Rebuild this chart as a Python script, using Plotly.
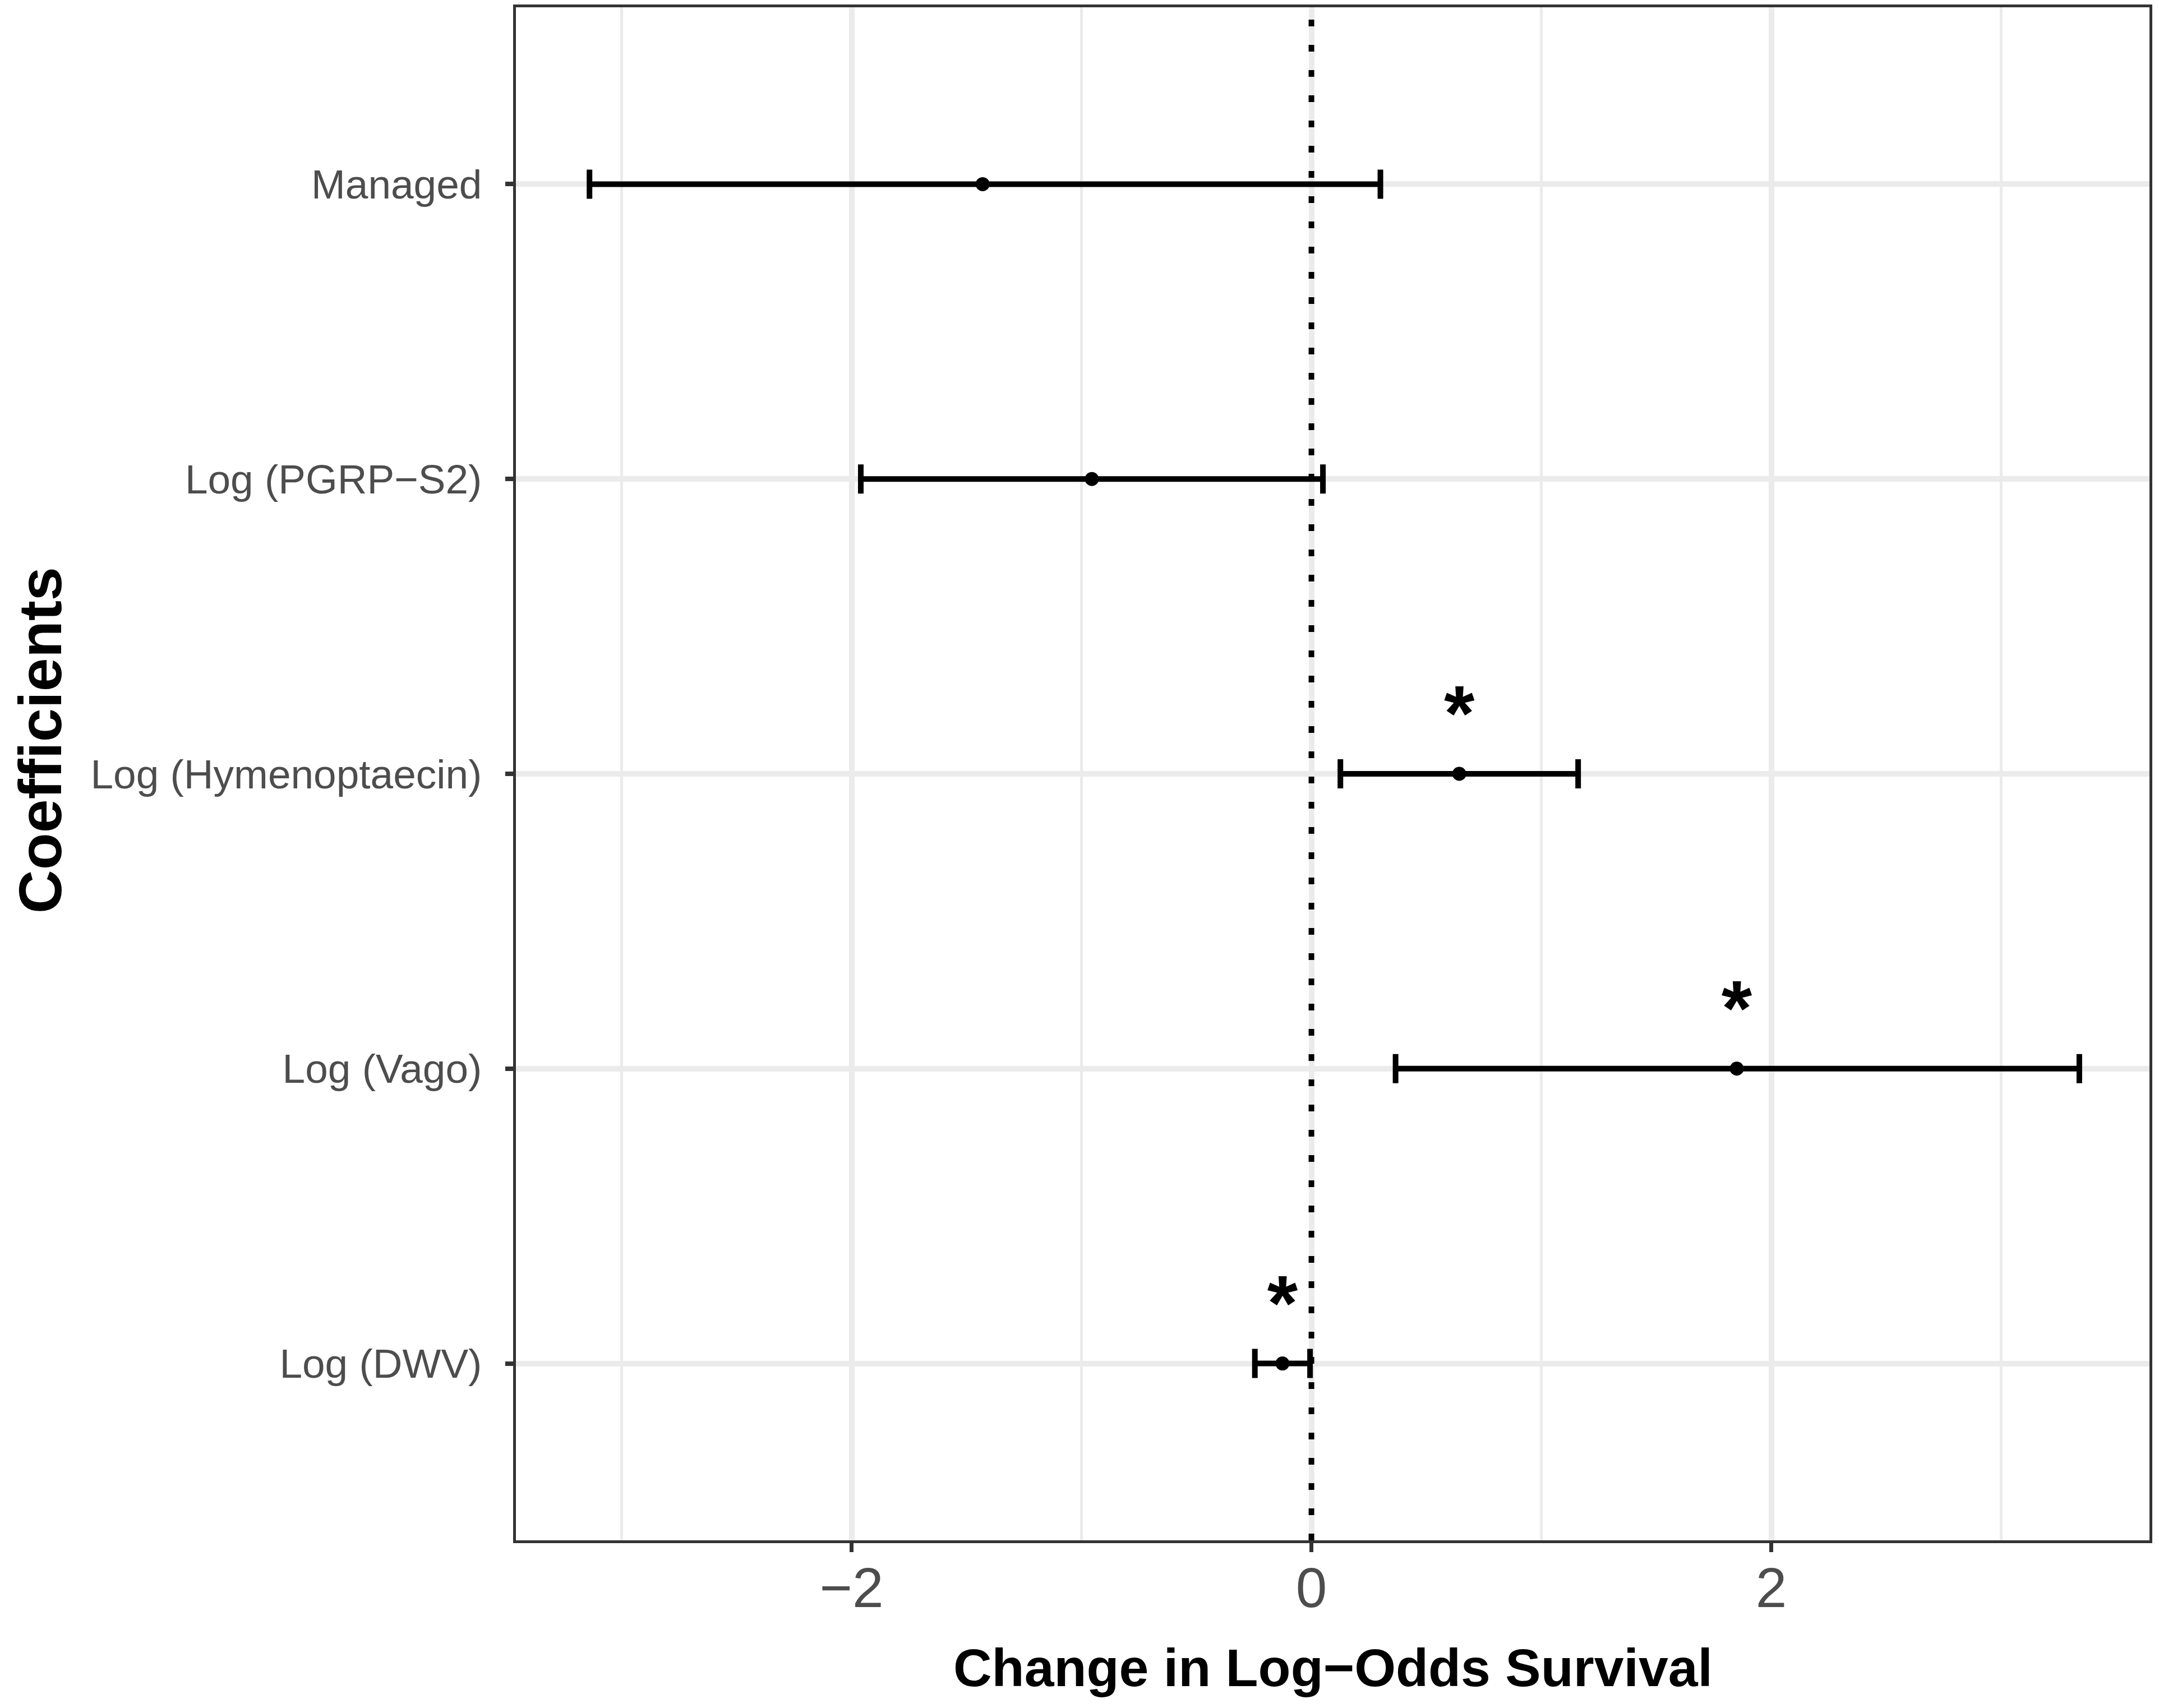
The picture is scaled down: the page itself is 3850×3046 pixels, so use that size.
import plotly.graph_objects as go

# coefficient estimates with 95% intervals
coef_names = ["Managed", "Log (PGRP\u2212S2)", "Log (Hymenoptaecin)", "Log (Vago)", "Log (DWV)"]
estimate = [-1.43, -0.955, 0.643, 1.85, -0.126]
lower = [-3.14, -1.96, 0.126, 0.366, -0.246]
upper = [0.30, 0.05, 1.16, 3.34, -0.006]
significant = [False, False, True, True, True]

x_ticks = [-2, 0, 2]
x_minor = [-3, -1, 1, 3]

ypos = list(range(len(coef_names)))[::-1]
err_plus = [u - e for u, e in zip(upper, estimate)]
err_minus = [e - l for e, l in zip(estimate, lower)]

FONT = "Liberation Sans, Arial, sans-serif"

fig = go.Figure()

fig.add_trace(go.Scatter(
    x=estimate, y=ypos, mode="markers",
    marker=dict(color="black", size=25),
    error_x=dict(type="data", symmetric=False, array=err_plus, arrayminus=err_minus,
                 color="black", thickness=10, width=26),
    showlegend=False, hoverinfo="skip",
))

# asterisks over significant terms
sx = [e for e, s in zip(estimate, significant) if s]
sy = [y + 0.18 for y, s in zip(ypos, significant) if s]
fig.add_trace(go.Scatter(
    x=sx, y=sy, mode="text", text=["<b>*</b>"] * len(sx), textposition="middle center",
    textfont=dict(family=FONT, size=140, color="black"),
    showlegend=False, hoverinfo="skip",
))

fig.add_vline(x=0, line=dict(color="black", width=10, dash="12px,33px"))

fig.update_xaxes(
    range=[-3.46, 3.645], tickvals=x_ticks,
    showgrid=True, gridcolor="#ebebeb", gridwidth=10,
    minor=dict(tickvals=x_minor, showgrid=True, gridcolor="#ebebeb", gridwidth=5, ticks=""),
    zeroline=False,
    showline=True, linecolor="#333333", linewidth=5, mirror=True,
    ticks="outside", ticklen=16, tickwidth=7, tickcolor="#333333",
    ticklabelstandoff=-22,
    tickfont=dict(family=FONT, size=100, color="#4d4d4d"),
)
fig.update_yaxes(
    range=[-0.6, 4.6], tickvals=ypos, ticktext=coef_names,
    showgrid=True, gridcolor="#ebebeb", gridwidth=10,
    zeroline=False,
    showline=True, linecolor="#333333", linewidth=5, mirror=True,
    ticks="outside", ticklen=14, tickwidth=8, tickcolor="#333333",
    ticklabelstandoff=27,
    tickfont=dict(family=FONT, size=73, color="#4d4d4d"),
)

fig.add_annotation(
    text="<b>Change in Log\u2212Odds Survival</b>", xref="paper", yref="paper",
    x=0.5, y=-0.083, xanchor="center", yanchor="middle", showarrow=False,
    font=dict(family=FONT, size=95, color="black"),
)
fig.add_annotation(
    text="<b>Coefficients</b>", xref="paper", yref="paper",
    x=-0.291, y=0.522, xanchor="center", yanchor="middle", showarrow=False, textangle=-90,
    font=dict(family=FONT, size=108, color="black"),
)

fig.update_layout(
    width=3850, height=3046,
    margin=dict(l=912, r=25, t=0, b=307),
    plot_bgcolor="white", paper_bgcolor="white",
)

fig.write_html("out.html")
